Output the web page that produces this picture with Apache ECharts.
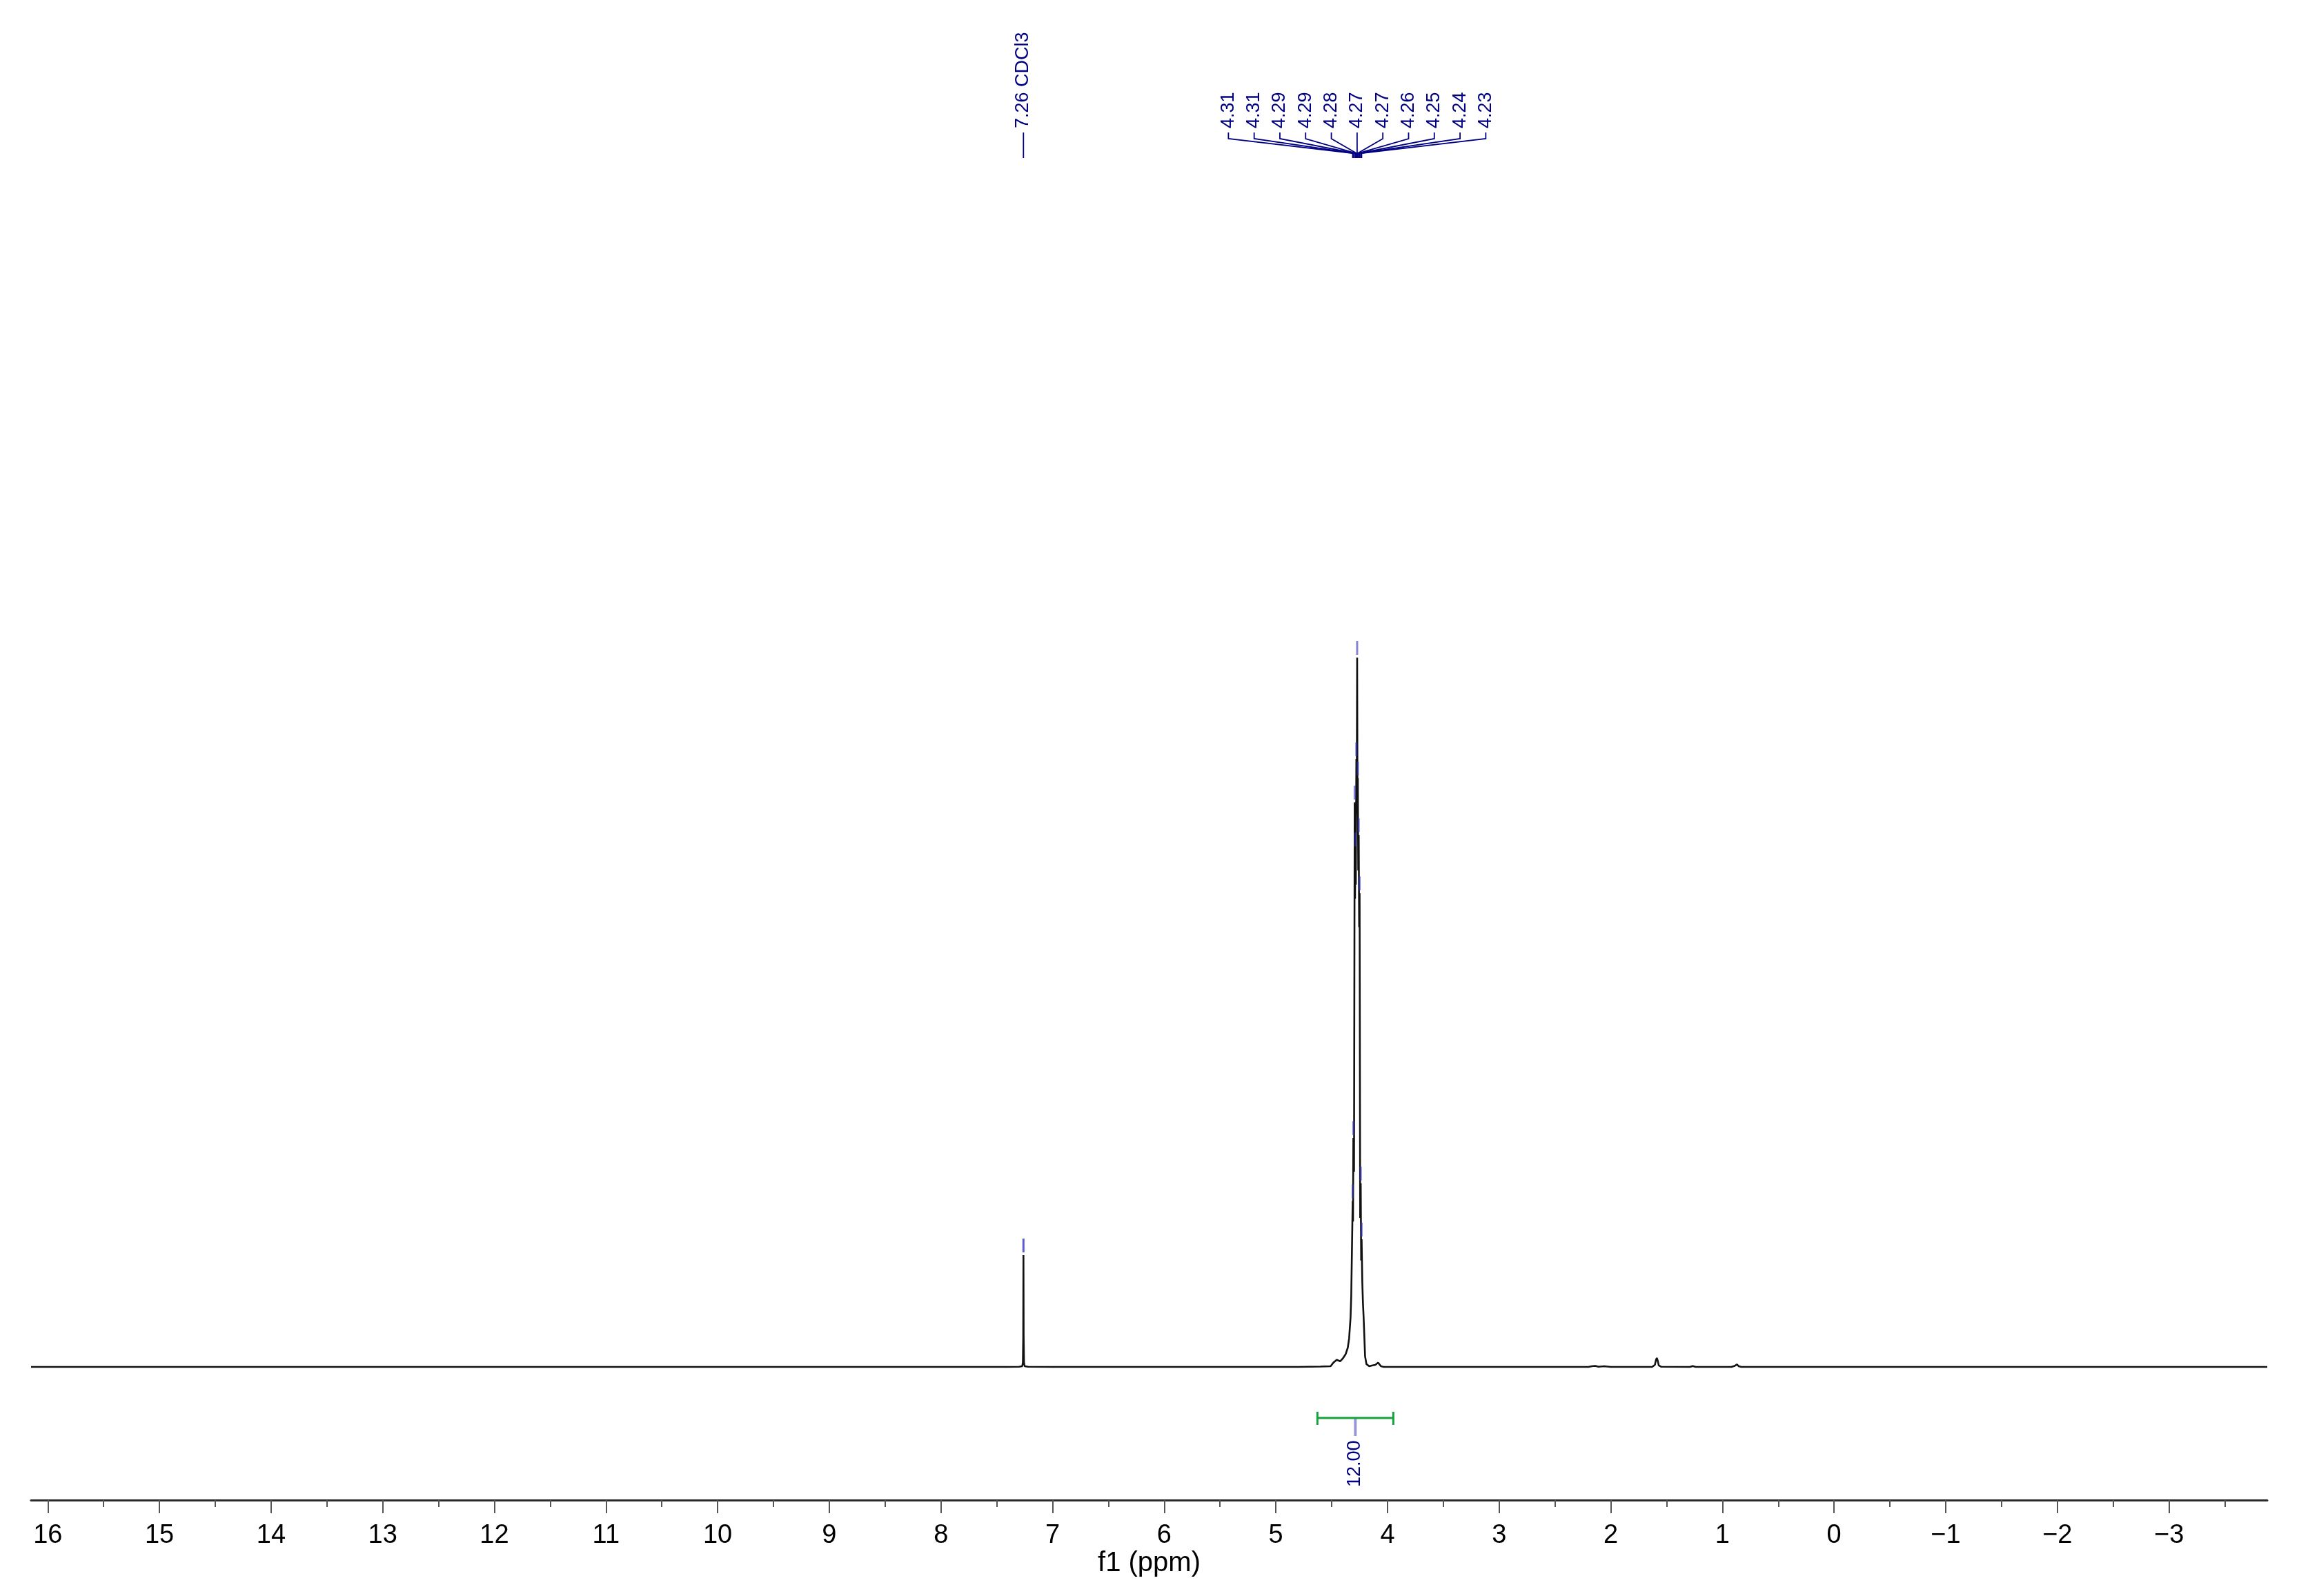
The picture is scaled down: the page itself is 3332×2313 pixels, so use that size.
<!DOCTYPE html>
<html>
<head>
<meta charset="utf-8">
<script src="https://cdn.jsdelivr.net/npm/echarts@6/dist/echarts.min.js"></script>
<style>
html,body{margin:0;padding:0;background:#fff;}
#chart{width:3332px;height:2313px;}
</style>
</head>
<body>
<div id="chart"></div>
<script>
// ---------------- DATA ----------------
const xRange = [16.15, -3.88];                       // ppm shown (left, right)
const majorTicks = [16,15,14,13,12,11,10,9,8,7,6,5,4,3,2,1,0,-1,-2,-3];
const minorTicks = [15.5,14.5,13.5,12.5,11.5,10.5,9.5,8.5,7.5,6.5,5.5,4.5,3.5,2.5,1.5,0.5,-0.5,-1.5,-2.5,-3.5];
const axisTitle = 'f1 (ppm)';

// spectrum trace: [ppm, intensity]
const spectrum = [
  [16.15, 0], [7.40, 0], [7.30, 0.02], [7.272, 0.1], [7.266, 0.6], [7.263, 4.0], [7.261, 15.76],
  [7.259, 4.0], [7.256, 0.6], [7.25, 0.1], [7.22, 0.02], [7.0, 0],
  [4.80, 0], [4.60, 0.05], [4.51, 0.1], [4.485, 0.6], [4.455, 1.0], [4.424, 0.8], [4.40, 1.2],
  [4.375, 1.8], [4.356, 2.7], [4.344, 4.0], [4.331, 7.0], [4.325, 10.0], [4.319, 16.0],
  [4.312, 23.4], [4.309, 20.5], [4.306, 32.3], [4.300, 27.5], [4.294, 79.6], [4.291, 66.0],
  [4.288, 73.0], [4.284, 68.0], [4.279, 85.7], [4.276, 78.0], [4.272, 100], [4.269, 80.0],
  [4.266, 83.0], [4.262, 70.0], [4.258, 75.0], [4.254, 62.0], [4.250, 66.8], [4.245, 21.0],
  [4.240, 25.9], [4.236, 15.0], [4.232, 18.0],
  [4.226, 12.0], [4.220, 9.0], [4.214, 7.0], [4.208, 4.5], [4.201, 1.5], [4.189, 0.4],
  [4.164, 0.1], [4.14, 0.2], [4.109, 0.3], [4.084, 0.6], [4.059, 0.1], [4.034, 0],
  [2.20, 0], [2.17, 0.1], [2.14, 0.15], [2.11, 0.02], [2.06, 0.1], [2.0, 0],
  [1.63, 0], [1.605, 0.3], [1.595, 1.0], [1.588, 1.26], [1.58, 0.9], [1.57, 0.2], [1.55, 0.03],
  [1.29, 0], [1.266, 0.12], [1.24, 0],
  [0.92, 0], [0.89, 0.15], [0.87, 0.36], [0.855, 0.1], [0.83, 0],
  [-3.88, 0]
];

// picked peaks of the multiplet
const peakPpm     = [4.312, 4.306, 4.294, 4.288, 4.279, 4.272, 4.266, 4.258, 4.250, 4.240, 4.232];
const peakHeights = [23.4, 32.3, 79.6, 73.0, 85.7, 100, 83.0, 75.0, 66.8, 25.9, 18.0];
const peakLabels  = ['4.31','4.31','4.29','4.29','4.28','4.27','4.27','4.26','4.25','4.24','4.23'];

// solvent peak
const solventPpm = [7.261];
const solventHeight = [15.76];
const solventLabel = ['7.26 CDCl3'];

// integral
const integralFrom = [4.628];
const integralTo = [3.948];
const integralLabel = ['12.00'];

// ---------------- STYLE / LAYOUT ----------------
const FONT = '"Liberation Sans", Arial, sans-serif';
const NAVY = '#000080';
const MARK = 'rgba(50,50,190,0.6)';
const LABEL_BOTTOM = 186;
const LABEL_SPACING = 37.3;

const chart = echarts.init(document.getElementById('chart'), null, {renderer: 'canvas'});

function vText(x, y, text, size, color) {
  return {
    type: 'text', x: x, y: y, rotation: Math.PI / 2,
    style: {
      text: text, x: 0, y: 0, fill: color,
      font: size + 'px ' + FONT,
      align: 'left', verticalAlign: 'middle',
      textAlign: 'left', textVerticalAlign: 'middle'
    }
  };
}

function renderMultiplet(params, api) {
  const i = params.dataIndex;
  const top = api.coord([api.value(0), api.value(1)]);
  const n = peakPpm.length;
  const meanPpm = peakPpm.reduce((a, b) => a + b, 0) / n;
  const cx = api.coord([meanPpm, 0])[0];
  const lx = cx + (i - (n - 1) / 2) * LABEL_SPACING;
  return {
    type: 'group',
    children: [
      vText(lx, LABEL_BOTTOM, peakLabels[i], 27, NAVY),
      {type: 'polyline', shape: {points: [[lx, 192], [lx, 201], [top[0], 222], [top[0], 229]]},
       style: {stroke: NAVY, lineWidth: 1.8, fill: null}},
      {type: 'line', shape: {x1: top[0], y1: top[1] - 24, x2: top[0], y2: top[1] - 4},
       style: {stroke: MARK, lineWidth: 3}}
    ]
  };
}

function renderSolvent(params, api) {
  const i = params.dataIndex;
  const top = api.coord([api.value(0), api.value(1)]);
  return {
    type: 'group',
    children: [
      vText(top[0] - 1, LABEL_BOTTOM, solventLabel[i], 27, NAVY),
      {type: 'line', shape: {x1: top[0], y1: 192, x2: top[0], y2: 229},
       style: {stroke: NAVY, lineWidth: 1.8}},
      {type: 'line', shape: {x1: top[0], y1: top[1] - 24, x2: top[0], y2: top[1] - 4},
       style: {stroke: 'rgba(50,50,200,0.8)', lineWidth: 3}}
    ]
  };
}

function renderIntegral(params, api) {
  const i = params.dataIndex;
  const a = api.coord([api.value(0), 0]);
  const b = api.coord([api.value(1), 0]);
  const y = a[1] + 74;
  const mx = (a[0] + b[0]) / 2;
  const green = '#17a03e';
  return {
    type: 'group',
    children: [
      {type: 'line', shape: {x1: mx, y1: y, x2: mx, y2: y + 26}, style: {stroke: '#9a9ad4', lineWidth: 4}},
      {type: 'line', shape: {x1: a[0], y1: y, x2: b[0], y2: y}, style: {stroke: green, lineWidth: 3}},
      {type: 'line', shape: {x1: a[0], y1: y - 9, x2: a[0], y2: y + 10}, style: {stroke: green, lineWidth: 3}},
      {type: 'line', shape: {x1: b[0], y1: y - 9, x2: b[0], y2: y + 10}, style: {stroke: green, lineWidth: 3}},
      vText(mx - 1, y + 100, integralLabel[i], 27, NAVY)
    ]
  };
}

const option = {
  animation: false,
  backgroundColor: '#ffffff',
  grid: {left: 45, right: 46, top: 953, bottom: 332, containLabel: false},
  xAxis: [{
    type: 'value', min: xRange[1], max: xRange[0], inverse: true,
    position: 'bottom', offset: 193,
    axisLine: {show: true, onZero: false, lineStyle: {color: '#2a2a2a', width: 3}},
    axisTick: {show: true, customValues: majorTicks, length: 19, lineStyle: {color: '#555', width: 2}},
    axisLabel: {
      show: true, customValues: majorTicks, margin: 33,
      fontSize: 38, fontFamily: FONT, color: '#000',
      formatter: v => (v < 0 ? '\u2212' + Math.abs(v) : String(v))
    },
    splitLine: {show: false},
    name: axisTitle, nameLocation: 'middle', nameGap: 72,
    nameTextStyle: {fontSize: 40, fontFamily: FONT, color: '#000'}
  }, {
    type: 'value', min: xRange[1], max: xRange[0], inverse: true,
    position: 'bottom', offset: 193,
    axisLine: {show: false, onZero: false},
    axisTick: {show: true, customValues: minorTicks, length: 10, lineStyle: {color: '#555', width: 2}},
    axisLabel: {show: false},
    splitLine: {show: false}
  }],
  yAxis: {type: 'value', min: 0, max: 100, show: false},
  series: [
    {
      type: 'line', data: spectrum, xAxisIndex: 0, showSymbol: false, symbol: 'none',
      lineStyle: {color: '#111', width: 2.6}, clip: false, z: 2, silent: true
    },
    {
      type: 'custom', xAxisIndex: 0, renderItem: renderMultiplet, z: 5, silent: true, clip: false,
      data: peakPpm.map((p, i) => [p, peakHeights[i]]), encode: {x: 0, y: 1}
    },
    {
      type: 'custom', xAxisIndex: 0, renderItem: renderSolvent, z: 5, silent: true, clip: false,
      data: solventPpm.map((p, i) => [p, solventHeight[i]]), encode: {x: 0, y: 1}
    },
    {
      type: 'custom', xAxisIndex: 0, renderItem: renderIntegral, z: 5, silent: true, clip: false,
      data: integralFrom.map((p, i) => [p, integralTo[i], 0]), encode: {x: [0, 1], y: 2}
    }
  ]
};
chart.setOption(option);
</script>
</body>
</html>
